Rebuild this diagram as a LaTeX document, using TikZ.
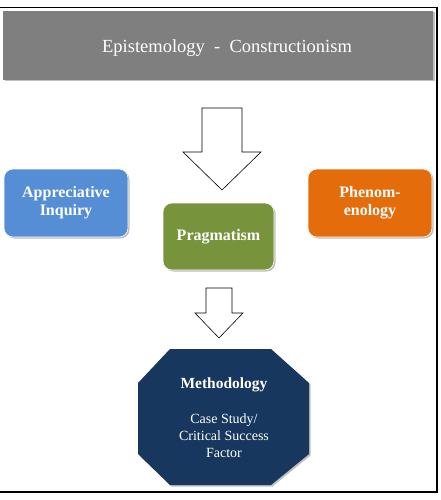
\documentclass[tikz,border=0pt]{standalone}
\usepackage{fontspec}
\setmainfont{Liberation Serif}
\usetikzlibrary{shadows}
\definecolor{topgray}{HTML}{7F7F7F}
\definecolor{apblue}{HTML}{558ED5}
\definecolor{prgreen}{HTML}{77933C}
\definecolor{phorange}{HTML}{E46C0A}
\definecolor{navy}{HTML}{17375E}
\begin{document}
\begin{tikzpicture}[x=1pt,y=-1pt,
  softshadow/.style={drop shadow={shadow xshift=1.5pt,shadow yshift=-1.5pt,opacity=0.25,fill=black}},
  rbox/.style={rounded corners=9pt,draw=white,line width=0.6pt,softshadow,text=white,
     font=\fontsize{16}{17}\selectfont\bfseries,align=center,inner sep=0pt},
  blockarrow/.style={draw=black,fill=white,line width=0.6pt,line join=miter},
  lbl/.style={text=white,align=center,inner sep=0pt}
]
\useasboundingbox (0,0) rectangle (440,500);
\fill[white] (0,0) rectangle (440,500);
% frame
\draw[line width=1.6pt] (-5,7.5) rectangle (437,492);
% top banner
\node[fill=topgray,minimum width=430pt,minimum height=69pt,inner sep=0pt,softshadow] (epi) at (218,45.5) {};
\node[text=white,font=\fontsize{18.5}{20}\selectfont,inner sep=0pt] (epitxt) at (227,48) {Epistemology\ \ -\ \ Constructionism};
% big arrow
\draw[blockarrow] (202,108) -- (242,108) -- (242,152) -- (261,152) -- (222,190) -- (183,152) -- (202,152) -- cycle;
% boxes
\node[rbox,fill=apblue,minimum width=124pt,minimum height=68pt] (api) at (66,203) {Appreciative\\[1pt]Inquiry};
\node[rbox,fill=phorange,minimum width=124pt,minimum height=68pt] (phe) at (370,203) {Phenom-\\[1pt]enology};
\node[rbox,fill=prgreen,minimum width=111pt,minimum height=67pt] (pra) at (218.5,236.5) {Pragmatism};
% small arrow
\draw[blockarrow] (206,288) -- (232,288) -- (232,313) -- (243,313) -- (219,338) -- (195,313) -- (206,313) -- cycle;
% octagon
\fill[navy,softshadow] (170,349) -- (271,349) -- (309,383) -- (309,454) -- (271,485) -- (170,485) -- (138,454) -- (138,383) -- cycle;
\node[lbl,font=\fontsize{15.5}{17}\selectfont\bfseries] (meth) at (224,385) {Methodology};
\node[lbl,font=\fontsize{14}{17}\selectfont] (case) at (224,436) {Case Study/\\Critical Success\\Factor};
\end{tikzpicture}
\end{document}
